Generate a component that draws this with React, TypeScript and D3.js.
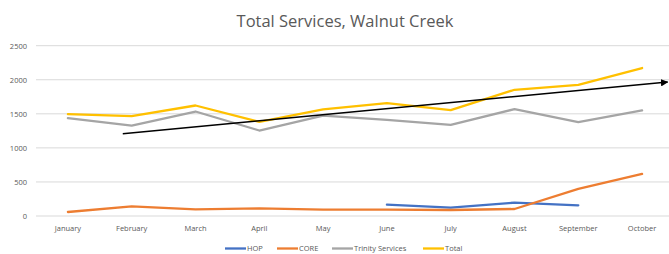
import React from "react";
import * as d3 from "d3";

const months = ["January","February","March","April","May","June","July","August","September","October"];
const hop: (number | null)[] = [null,null,null,null,null,166,122,196,157,null];
const core: (number | null)[] = [59,142,98,113,93,93,88,103,397,618];
const trinity: (number | null)[] = [1436,1328,1534,1255,1475,1412,1338,1569,1378,1549];
const total: (number | null)[] = [1495,1466,1622,1382,1565,1657,1554,1853,1926,2172];
const yTicks = [0,500,1000,1500,2000,2500];
// hand-drawn trend arrow: [category position, value]
const trendPos = [0.86, 9.4];
const trendVal = [1208, 1966];

const seriesList = [
  { name: "HOP", values: hop, color: "#4472C4" },
  { name: "CORE", values: core, color: "#ED7D31" },
  { name: "Trinity Services", values: trinity, color: "#A5A5A5" },
  { name: "Total", values: total, color: "#FFC000" },
];

const W = 669, H = 254;
const left = 36, right = 674, top = 45.7, bottom = 216;
const font = "'Open Sans', sans-serif";
const textColor = "#595959";

export default function App() {
  const x = d3.scaleBand<string>().domain(months).range([left, right]);
  const y = d3.scaleLinear().domain([0, 2500]).range([bottom, top]);
  const cx = (i: number) => (x(months[0]) as number) + x.bandwidth() / 2 + i * x.step();
  const line = d3.line<number | null>()
    .defined((d) => d !== null)
    .x((_, i) => cx(i))
    .y((d) => y(d as number));

  const legendX = [225, 277, 332, 423];
  return (
    <svg width={W} height={H} style={{ position: "absolute", left: 0, top: 0, background: "#fff" }} fontFamily={font}>
      <defs>
        <marker id="arrow" viewBox="0 0 10 10" refX="9" refY="5" markerWidth="5" markerHeight="5" orient="auto" markerUnits="strokeWidth">
          <path d="M0,0 L10,5 L0,10 z" fill="#000" />
        </marker>
      </defs>
      <text x={345} y={27} textAnchor="middle" fontSize={16.5} fill={textColor}>Total Services, Walnut Creek</text>
      {yTicks.map((t) => (
        <g key={t}>
          <line x1={left} x2={right} y1={y(t)} y2={y(t)} stroke="#D9D9D9" strokeWidth={1} />
          <text x={27} y={y(t) + 3} textAnchor="end" fontSize={7.5} fill={textColor}>{t}</text>
        </g>
      ))}
      {months.map((m, i) => (
        <text key={m} x={cx(i)} y={231} textAnchor="middle" fontSize={7.5} fill={textColor}>{m}</text>
      ))}
      {seriesList.map((s) => (
        <path key={s.name} d={line(s.values) || ""} fill="none" stroke={s.color} strokeWidth={2.3} strokeLinejoin="round" strokeLinecap="round" />
      ))}
      <line
        x1={cx(0) + trendPos[0] * x.step()} y1={y(trendVal[0])}
        x2={cx(0) + trendPos[1] * x.step()} y2={y(trendVal[1])}
        stroke="#000" strokeWidth={1.5} markerEnd="url(#arrow)"
      />
      {seriesList.map((s, i) => (
        <g key={s.name}>
          <line x1={legendX[i]} x2={legendX[i] + 21} y1={248.5} y2={248.5} stroke={s.color} strokeWidth={2.3} />
          <text x={legendX[i] + 22} y={251} fontSize={7.5} fill={textColor}>{s.name}</text>
        </g>
      ))}
    </svg>
  );
}
